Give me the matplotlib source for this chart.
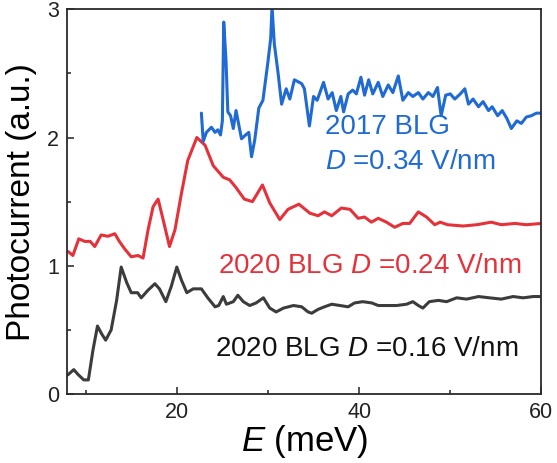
import matplotlib
matplotlib.use("Agg")
import matplotlib.pyplot as plt
from matplotlib.ticker import MultipleLocator
import numpy as np

plt.rcParams['font.family'] = ['Liberation Sans', 'DejaVu Sans']
plt.rcParams['mathtext.fontset'] = 'custom'
plt.rcParams['mathtext.it'] = 'Liberation Sans:italic'
plt.rcParams['mathtext.rm'] = 'Liberation Sans'

# 2020 BLG, D = 0.16 V/nm (black)
e_016 = [8.06, 8.7, 9.2, 9.8, 10.3, 10.8, 11.3, 11.75, 12.2, 12.8,
         13.4, 13.9, 14.5, 15.0, 15.7, 16.1, 16.85, 17.6, 18.1, 18.8,
         19.4, 20.0, 20.5, 21.1, 21.8, 22.7, 23.4, 24.2, 24.6, 25.1,
         25.45, 26.2, 26.7, 27.3, 28.0, 28.7, 29.5, 30.2, 30.9, 31.7,
         32.8, 33.7, 34.4, 34.8, 35.5, 36.2, 37.0, 37.9, 38.8, 39.5,
         40.4, 41.4, 42.1, 43.0, 44.1, 45.2, 45.9, 46.5, 47.0, 47.7,
         48.7, 49.6, 50.7, 51.8, 53.1, 54.3, 55.6, 56.9, 58.0, 59.1,
         60.0]
pc_016 = [0.15, 0.19, 0.15, 0.11, 0.11, 0.34, 0.53, 0.47, 0.42, 0.50,
          0.73, 0.99, 0.87, 0.79, 0.79, 0.75, 0.81, 0.86, 0.82, 0.72,
          0.84, 0.99, 0.89, 0.79, 0.82, 0.82, 0.75, 0.68, 0.69, 0.76,
          0.70, 0.72, 0.77, 0.72, 0.69, 0.71, 0.75, 0.67, 0.64, 0.67,
          0.69, 0.68, 0.64, 0.63, 0.66, 0.68, 0.70, 0.69, 0.68, 0.71,
          0.72, 0.71, 0.69, 0.69, 0.69, 0.70, 0.72, 0.69, 0.67, 0.72,
          0.73, 0.72, 0.75, 0.74, 0.76, 0.75, 0.74, 0.76, 0.75, 0.76,
          0.76]

# 2020 BLG, D = 0.24 V/nm (red)
e_024 = [8.1, 8.6, 9.25, 9.9, 10.5, 11.0, 11.7, 12.45, 13.2, 13.7,
         14.3, 15.0, 15.75, 16.3, 16.85, 17.4, 17.95, 18.5, 19.2, 19.8,
         20.5, 21.2, 22.2, 23.1, 24.0, 25.1, 25.8, 26.5, 27.4, 28.3,
         29.4, 30.2, 31.3, 32.2, 33.4, 34.6, 35.5, 36.2, 37.0, 38.05,
         39.0, 39.9, 40.6, 41.35, 42.1, 43.0, 43.9, 44.8, 45.55, 46.5,
         47.4, 48.3, 48.9, 49.7, 51.4, 52.9, 54.5, 55.6, 57.1, 58.35,
         60.0]
pc_024 = [1.11, 1.08, 1.21, 1.19, 1.19, 1.15, 1.24, 1.23, 1.25, 1.19,
          1.13, 1.07, 1.08, 1.06, 1.28, 1.46, 1.52, 1.36, 1.15, 1.28,
          1.56, 1.82, 2.00, 1.94, 1.78, 1.69, 1.67, 1.61, 1.52, 1.50,
          1.63, 1.49, 1.36, 1.44, 1.48, 1.41, 1.39, 1.42, 1.39, 1.45,
          1.44, 1.37, 1.38, 1.34, 1.37, 1.34, 1.30, 1.33, 1.33, 1.42,
          1.38, 1.32, 1.34, 1.32, 1.31, 1.32, 1.34, 1.32, 1.33, 1.32,
          1.33]

# 2017 BLG, D = 0.34 V/nm (blue)
e_034 = [22.7, 22.9, 23.25, 23.8, 24.2, 24.5, 24.8, 25.0, 25.15, 25.4,
         25.6, 25.9, 26.2, 26.5, 27.1, 27.55, 27.9, 28.2, 28.55, 29.0,
         29.45, 30.0, 30.3, 30.45, 30.7, 31.1, 31.5, 32.0, 32.4, 32.9,
         33.7, 34.0, 34.55, 35.0, 35.4, 36.1, 36.6, 37.05, 37.5, 38.0,
         38.3, 38.8, 39.3, 39.7, 40.2, 40.6, 41.05, 41.5, 42.1, 42.6,
         43.2, 43.7, 44.3, 44.8, 45.4, 45.9, 46.5, 47.0, 47.6, 48.1,
         48.6, 49.0, 49.5, 50.0, 50.5, 51.1, 51.6, 52.0, 52.5, 53.1,
         53.6, 54.2, 54.6, 55.2, 55.7, 56.2, 56.7, 57.3, 57.8, 58.35,
         58.9, 59.45, 59.9]
pc_034 = [2.19, 1.97, 2.04, 2.08, 2.04, 2.06, 2.02, 2.13, 2.90, 2.60,
          2.20, 2.17, 2.07, 2.21, 1.99, 2.02, 2.04, 1.85, 1.98, 2.23,
          2.29, 2.59, 2.77, 3.02, 2.73, 2.51, 2.26, 2.38, 2.30, 2.45,
          2.42, 2.38, 2.09, 2.32, 2.29, 2.43, 2.30, 2.35, 2.21, 2.32,
          2.20, 2.34, 2.37, 2.34, 2.47, 2.33, 2.45, 2.34, 2.43, 2.32,
          2.41, 2.35, 2.48, 2.29, 2.35, 2.32, 2.35, 2.30, 2.35, 2.32,
          2.39, 2.17, 2.33, 2.34, 2.30, 2.34, 2.38, 2.26, 2.30, 2.24,
          2.28, 2.21, 2.24, 2.17, 2.21, 2.15, 2.07, 2.13, 2.11, 2.16,
          2.17, 2.19, 2.19]

c_black = "#3c3c3c"
c_red = "#e5323a"
c_blue = "#1f6ad3"

fig = plt.figure(figsize=(5.57, 4.63), dpi=100)
ax = fig.add_axes([0.121, 0.149, 0.851, 0.831])

line_kw = dict(lw=2.2, solid_joinstyle='round', solid_capstyle='round')
ax.plot(e_016, pc_016, color=c_black, **line_kw)
ax.plot(e_024, pc_024, color=c_red, **line_kw)
ax.plot(e_034, pc_034, color=c_blue, **line_kw)

ax.set_xlim(8, 60)
ax.set_ylim(0, 3)
ax.xaxis.set_major_locator(MultipleLocator(20))
ax.xaxis.set_minor_locator(MultipleLocator(10))
ax.yaxis.set_major_locator(MultipleLocator(1))
ax.yaxis.set_minor_locator(MultipleLocator(0.5))
ax.tick_params(which='both', direction='in', labelsize=15.5, colors='#222222')
ax.tick_params(which='major', length=5, width=1.1, pad=6)
ax.tick_params(which='minor', length=3, width=1.1)
for s in ax.spines.values():
    s.set_linewidth(1.3)
    s.set_color('#2a2a2a')

ax.set_xlabel('$E$ (meV)', fontsize=25, labelpad=0)
ax.set_ylabel('Photocurrent (a.u.)', fontsize=24, labelpad=7)

ax.text(36.3, 2.08, '2017 BLG', color=c_blue, fontsize=20, va='center')
ax.text(36.3, 1.81, '$D$ =0.34 V/nm', color=c_blue, fontsize=20, va='center')
ax.text(24.5, 1.0, '2020 BLG $D$ =0.24 V/nm', color=c_red, fontsize=20, va='center')
ax.text(24.2, 0.35, '2020 BLG $D$ =0.16 V/nm', color='#111111', fontsize=20, va='center')

fig.savefig('out.png', dpi=100)
